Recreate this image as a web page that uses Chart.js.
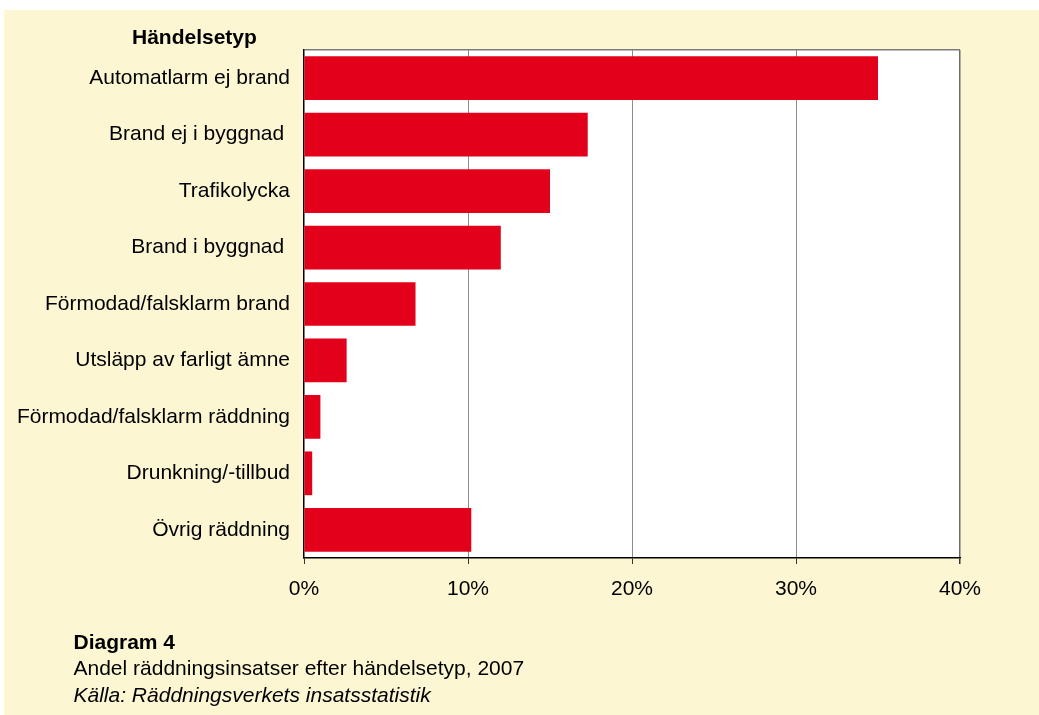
<!DOCTYPE html>
<html>
<head>
<meta charset="utf-8">
<script src="https://cdn.jsdelivr.net/npm/chart.js@4"></script>
<style>
  html, body { margin: 0; padding: 0; background: #fff; }
  body { width: 1039px; height: 715px; position: relative; overflow: hidden;
         font-family: "Liberation Sans", Arial, sans-serif; color: #000; }
  #panel { position: absolute; left: 4px; top: 10px; width: 1035px; height: 705px; background: #FCF7D2; }
  #chartBox { position: absolute; left: 0; top: 0; width: 1035px; height: 620px; }
  #axisTitle { position: absolute; left: 128px; top: 14.4px; font-size: 21px; line-height: 26.7px; font-weight: bold; }
  #caption { position: absolute; left: 69.5px; top: 618.7px; font-size: 21px; line-height: 26.7px; }
  #caption .b { font-weight: bold; }
  #caption .i { font-style: italic; }
</style>
</head>
<body>
<div id="panel">
  <div id="chartBox"><canvas id="chart"></canvas></div>
  <div id="axisTitle">Händelsetyp</div>
  <div id="caption">
    <div class="b">Diagram 4</div>
    <div>Andel räddningsinsatser efter händelsetyp, 2007</div>
    <div class="i">Källa: Räddningsverkets insatsstatistik</div>
  </div>
</div>
<script>
// Data (share of rescue operations, %)
const categories = [
    'Automatlarm ej brand',
    'Brand ej i byggnad ',
    'Trafikolycka',
    'Brand i byggnad ',
    'Förmodad/falsklarm brand',
    'Utsläpp av farligt ämne',
    'Förmodad/falsklarm räddning',
    'Drunkning/-tillbud',
    'Övrig räddning'
];
const shares = [35.0, 17.3, 15.0, 12.0, 6.8, 2.6, 1.0, 0.5, 10.2];
const xTicks = [0, 10, 20, 30, 40];

Chart.defaults.font.family = '"Liberation Sans", Arial, sans-serif';
Chart.defaults.color = '#000';

// white plot background behind the bars
const plotBackground = {
    id: 'plotBackground',
    beforeDraw(chart) {
        const a = chart.chartArea;
        const ctx = chart.ctx;
        ctx.save();
        ctx.fillStyle = '#fff';
        ctx.fillRect(a.left, a.top, a.right - a.left, a.bottom - a.top);
        ctx.restore();
    }
};

new Chart(document.getElementById('chart'), {
    type: 'bar',
    data: {
        labels: categories,
        datasets: [{
            data: shares,
            backgroundColor: '#E2001A',
            borderWidth: 0,
            barPercentage: 0.775,
            categoryPercentage: 1
        }]
    },
    options: {
        indexAxis: 'y',
        responsive: true,
        maintainAspectRatio: false,
        animation: false,
        layout: { padding: { top: 40, right: 79, left: 0, bottom: 0 } },
        plugins: {
            legend: { display: false },
            tooltip: { enabled: false }
        },
        scales: {
            x: {
                min: 0,
                max: 40,
                afterBuildTicks: scale => { scale.ticks = xTicks.map(v => ({ value: v })); },
                afterFit: scale => { scale.height = 72; },
                ticks: {
                    callback: v => v + '%',
                    font: { size: 21 },
                    padding: 13,
                    maxRotation: 0
                },
                grid: {
                    color: ctx => (ctx.tick && ctx.tick.value === 0) ? 'rgba(0,0,0,0)' : (ctx.tick && ctx.tick.value === 40 ? '#6b6b6b' : '#8c8c8c'),
                    lineWidth: ctx => (ctx.tick && ctx.tick.value === 40) ? 1.5 : 1,
                    tickColor: '#333',
                    tickLength: 6
                },
                border: { display: true, color: '#000', width: 1.5 }
            },
            y: {
                afterFit: scale => { scale.width = 300; },
                ticks: {
                    font: { size: 21 },
                    padding: 14
                },
                grid: {
                    drawTicks: false,
                    color: ctx => ctx.index === 0 ? '#7a7a7a' : 'rgba(0,0,0,0)',
                    lineWidth: 1.5
                },
                border: { display: true, color: '#000', width: 1.5 }
            }
        }
    },
    plugins: [plotBackground]
});
</script>
</body>
</html>
